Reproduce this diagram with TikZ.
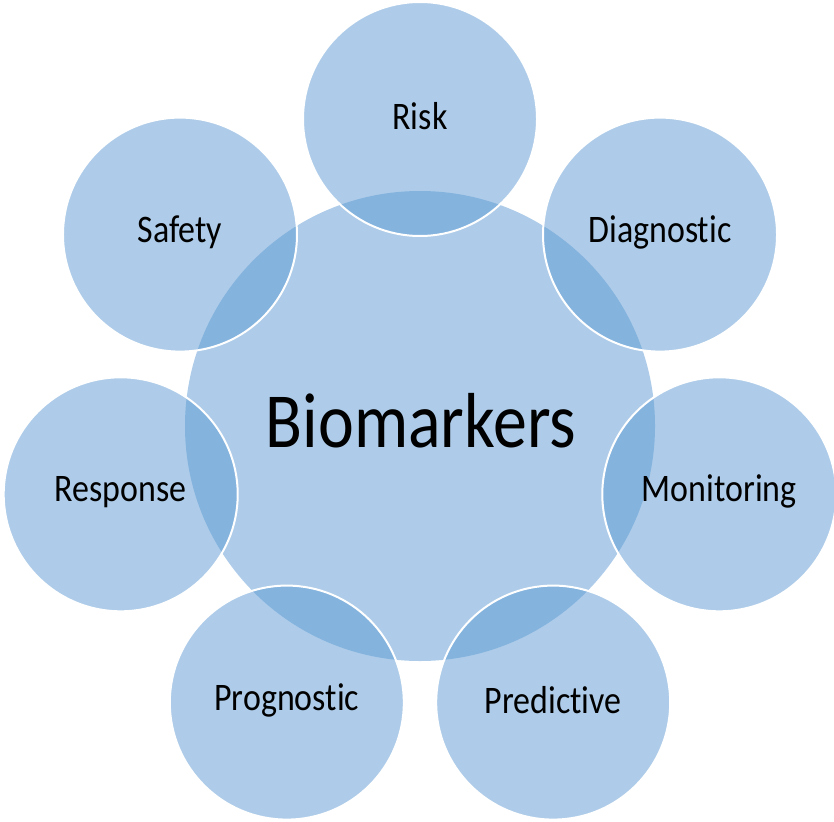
\documentclass[tikz,border=0pt]{standalone}
\usepackage{fontspec}
\setmainfont[FakeStretch=0.87,Ligatures={NoCommon,NoContextual}]{Carlito}
\usetikzlibrary{calc}
\definecolor{lightb}{HTML}{AECCE9}
\definecolor{darkb}{HTML}{84B3DE}
\begin{document}
\begin{tikzpicture}[x=1pt,y=-1pt,
  outer/.style={circle,minimum size=234pt,inner sep=0pt,fill=lightb},
  centre/.style={circle,minimum size=470pt,inner sep=0pt,fill=lightb}]
\useasboundingbox (0,0) rectangle (834,821);
\node[centre] (bio) at (420,426) {};
\foreach \name/\lab/\ang in {risk/Risk/-90, diag/Diagnostic/-38.571, moni/Monitoring/12.857, pred/Predictive/64.286, prog/Prognostic/115.714, resp/Response/167.143, safe/Safety/218.571}{
  \node[outer] (\name) at ($(420,426)+(\ang:307)$) {};
  \begin{scope}
    \clip (420,426) circle (235);
    \fill[darkb] (\name.center) circle (117);
  \end{scope}
  \draw[white,line width=2pt] (\name.center) circle (117);
  \node[font=\fontsize{39}{44}\selectfont] (\name-t) at ($(\name.center)+(0,-2.5)$) {\lab};
}
\node[font=\fontsize{78}{84}\selectfont] (bio-t) at (421,421) {Biomarkers};
\end{tikzpicture}
\end{document}
